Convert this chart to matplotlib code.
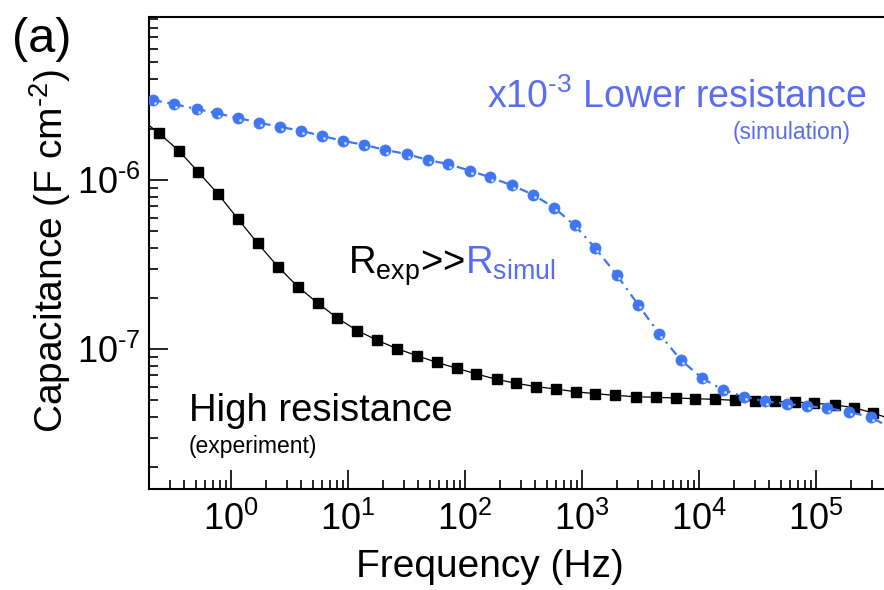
import math
import matplotlib
matplotlib.use("Agg")
import matplotlib.pyplot as plt
import matplotlib.transforms as mtransforms
from matplotlib.ticker import LogLocator, NullFormatter, FixedLocator, FuncFormatter

# ---- data ----
# High resistance (experiment): frequency (Hz) and capacitance (F cm^-2)
exp_freq = [0.165, 0.242, 0.357, 0.525, 0.774, 1.14, 1.69, 2.52, 3.74, 5.55,
            8.11, 12.0, 17.6, 26.1, 38.8, 57.5, 85.3, 125, 186, 274,
            406, 599, 882, 1300, 1930, 2880, 4270, 6320, 9310, 13600,
            20200, 29800, 44200, 65500, 97000, 144000, 210000, 309000, 456000]
exp_cap = [2.34e-6, 1.90e-6, 1.50e-6, 1.12e-6, 8.30e-7, 5.93e-7, 4.24e-7, 3.08e-7, 2.34e-7, 1.87e-7,
           1.53e-7, 1.29e-7, 1.135e-7, 1.01e-7, 9.17e-8, 8.36e-8, 7.72e-8, 7.15e-8, 6.64e-8, 6.29e-8,
           6.01e-8, 5.82e-8, 5.61e-8, 5.46e-8, 5.34e-8, 5.24e-8, 5.20e-8, 5.15e-8, 5.10e-8, 5.06e-8,
           4.99e-8, 4.96e-8, 4.92e-8, 4.88e-8, 4.79e-8, 4.70e-8, 4.51e-8, 4.20e-8, 3.82e-8]

# Lower resistance (simulation), plotted x10^-3
sim_freq = [0.216, 0.327, 0.509, 0.764, 1.14, 1.74, 2.63, 3.99, 6.0, 9.07,
            13.8, 20.9, 31.8, 47.8, 72.2, 110, 165, 250, 383, 580,
            865, 1300, 1990, 3030, 4590, 7000, 10700, 15900, 24000, 36600,
            56000, 83800, 125000, 192000, 293000, 443000]
sim_cap = [2.985e-6, 2.82e-6, 2.64e-6, 2.49e-6, 2.34e-6, 2.19e-6, 2.07e-6, 1.96e-6, 1.83e-6, 1.71e-6,
           1.62e-6, 1.51e-6, 1.43e-6, 1.32e-6, 1.245e-6, 1.14e-6, 1.04e-6, 9.35e-7, 8.22e-7, 6.87e-7,
           5.41e-7, 3.97e-7, 2.74e-7, 1.83e-7, 1.23e-7, 8.64e-8, 6.72e-8, 5.78e-8, 5.25e-8, 4.93e-8,
           4.75e-8, 4.62e-8, 4.48e-8, 4.27e-8, 3.96e-8, 3.42e-8]

x_limits = [0.1991, 3.81e5]
y_limits = [1.491e-8, 9.25e-6]
x_major = [1e0, 1e1, 1e2, 1e3, 1e4, 1e5]
y_major = [1e-7, 1e-6]

# ---- style ----
plt.rcParams['font.family'] = ['Liberation Sans', 'DejaVu Sans']
plt.rcParams['mathtext.fontset'] = 'custom'
plt.rcParams['mathtext.rm'] = 'Liberation Sans'
plt.rcParams['mathtext.it'] = 'Liberation Sans:italic'
plt.rcParams['mathtext.bf'] = 'Liberation Sans:bold'
plt.rcParams['axes.unicode_minus'] = False

HY = '\u2010'  # short hyphen used as the minus sign in the reference
BLUE = '#3f76f4'
BLUE_TXT = '#5a6df2'

W, H = 884, 590
fig = plt.figure(figsize=(W / 100, H / 100), dpi=100)
L, R, B, T = 149, 884, 489, 17
ax = fig.add_axes([L / W, 1 - B / H, (R - L) / W, (B - T) / H])

def axpos(px, py):
    return ((px - L) / (R - L), (B - py) / (B - T))

# experiment: black squares, thin solid line
ax.plot(exp_freq, exp_cap, color='black', lw=0.9, marker='s', ms=7.2,
        mfc='black', mec='black', zorder=3)

# simulation: blue spheres, dash-dot line
ln, = ax.plot(sim_freq, sim_cap, color=BLUE, lw=1.6, marker='o', ms=8,
              mfc=BLUE, mec=BLUE, mew=0.5, zorder=4)
ln.set_dashes((4, 2.5, 1, 2.5))
hl_tr = mtransforms.offset_copy(ax.transData, fig=fig, x=2.0, y=-2.5, units='dots')
ax.plot(sim_freq, sim_cap, linestyle='none', marker='o', ms=2.0,
        mfc='#d0defe', mec='none', transform=hl_tr, zorder=5)

ax.set_xscale('log')
ax.set_yscale('log')
ax.set_xlim(*x_limits)
ax.set_ylim(*y_limits)

def pow10(v, pos=None):
    e = int(round(math.log10(v)))
    return r'$\mathregular{10^{%s}}$' % str(e).replace('-', HY)

ax.xaxis.set_major_locator(FixedLocator(x_major))
ax.xaxis.set_minor_locator(LogLocator(base=10, subs=range(2, 10), numticks=100))
ax.yaxis.set_major_locator(FixedLocator(y_major))
ax.yaxis.set_minor_locator(LogLocator(base=10, subs=range(2, 10), numticks=100))
ax.xaxis.set_major_formatter(FuncFormatter(pow10))
ax.yaxis.set_major_formatter(FuncFormatter(pow10))
ax.xaxis.set_minor_formatter(NullFormatter())
ax.yaxis.set_minor_formatter(NullFormatter())

ax.tick_params(which='both', direction='in', top=False, right=False, width=1.2)
ax.tick_params(which='major', length=13.5, labelsize=26)
ax.tick_params(which='minor', length=6.5)
ax.tick_params(axis='x', which='major', pad=9)
ax.tick_params(axis='y', which='major', pad=6)

for s in ['left', 'bottom', 'top']:
    ax.spines[s].set_linewidth(1.5)
ax.spines['right'].set_visible(False)

ax.set_xlabel('Frequency (Hz)', fontsize=28)
ax.xaxis.set_label_coords(*axpos(489.5, 577))
ax.xaxis.label.set_va('baseline')
ax.set_ylabel(r'Capacitance (F cm$^{\mathregular{%s2}}$)' % HY, fontsize=28)
ax.yaxis.set_label_coords(*axpos(50, 251))
ax.yaxis.label.set_va('center')

# annotations
ax.text(*axpos(486.7, 108), r'x10$^{\mathregular{%s3}}$ Lower resistance' % HY,
        transform=ax.transAxes, color=BLUE_TXT, fontsize=27, ha='left', va='baseline')
ax.text(*axpos(792, 139), '(simulation)', transform=ax.transAxes,
        color=BLUE_TXT, fontsize=16.5, ha='center', va='baseline')
ax.text(*axpos(189, 420.7), 'High resistance', transform=ax.transAxes,
        color='black', fontsize=27.5, ha='left', va='baseline')
ax.text(*axpos(188.3, 453), '(experiment)', transform=ax.transAxes,
        color='black', fontsize=16.5, ha='left', va='baseline')

t1 = ax.text(*axpos(348, 273.3), r'R$_{\mathregular{exp}}$>>', transform=ax.transAxes,
             color='black', fontsize=27.5, ha='left', va='baseline')
fig.canvas.draw()
bb = t1.get_window_extent(fig.canvas.get_renderer())
x2 = ax.transAxes.inverted().transform((bb.x1, 0))[0]
ax.text(x2, axpos(348, 273.3)[1], r'R$_{\mathregular{simul}}$', transform=ax.transAxes,
        color=BLUE_TXT, fontsize=27.5, ha='left', va='baseline')

fig.text(12 / W, 1 - 52 / H, '(a)', fontsize=35, ha='left', va='baseline')

fig.savefig('out.png', dpi=100)
